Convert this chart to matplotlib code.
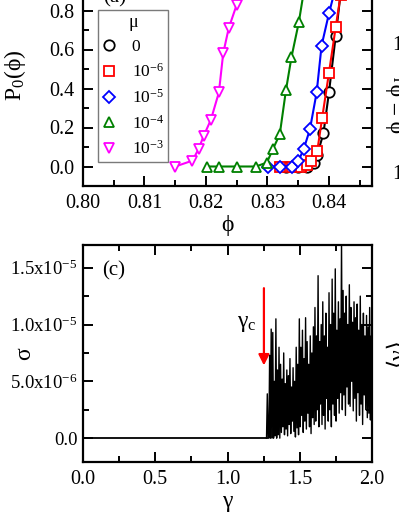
import numpy as np
import matplotlib
matplotlib.use('Agg')
import matplotlib.pyplot as plt
from matplotlib.lines import Line2D
from matplotlib.ticker import MultipleLocator

plt.rcParams['font.family'] = ['Liberation Serif', 'DejaVu Serif']
plt.rcParams['mathtext.fontset'] = 'custom'
plt.rcParams['mathtext.rm'] = 'Liberation Serif'
plt.rcParams['mathtext.it'] = 'Liberation Serif:italic'

PHI = '\u03d5'

# panel (a): P0(phi) for several mu
mu_labels = ['0', '10$^{-6}$', '10$^{-5}$', '10$^{-4}$', '10$^{-3}$']
phi_mu0 = [0.8330, 0.8350, 0.8365, 0.8375, 0.8381, 0.8391, 0.8400, 0.8411, 0.8419, 0.8428, 0.8436]
p0_mu0 = [0.0, 0.0, 0.0, 0.02, 0.06, 0.17, 0.38, 0.67, 0.89, 0.97, 1.0]
phi_mu6 = [0.8320, 0.8340, 0.8355, 0.8365, 0.8370, 0.8381, 0.8389, 0.8400, 0.8411, 0.8419, 0.8428, 0.8436]
p0_mu6 = [0.0, 0.0, 0.0, 0.01, 0.03, 0.08, 0.25, 0.48, 0.715, 0.88, 0.96, 1.0]
phi_mu5 = [0.8301, 0.8321, 0.8340, 0.8350, 0.8359, 0.8369, 0.8380, 0.8388, 0.8400, 0.8411, 0.8420, 0.8430]
p0_mu5 = [0.0, 0.0, 0.0, 0.026, 0.09, 0.19, 0.38, 0.62, 0.785, 0.92, 0.98, 1.0]
phi_mu4 = [0.8202, 0.8221, 0.8250, 0.8281, 0.8299, 0.8309, 0.8320, 0.8330, 0.8339, 0.8351, 0.8360, 0.8370, 0.8380]
p0_mu4 = [0.0, 0.0, 0.0, 0.0, 0.02, 0.09, 0.165, 0.39, 0.56, 0.74, 0.915, 0.98, 1.0]
phi_mu3 = [0.8150, 0.8178, 0.8188, 0.8196, 0.8208, 0.8221, 0.8228, 0.8237, 0.8250, 0.8259, 0.8270, 0.8280]
p0_mu3 = [0.0, 0.03, 0.09, 0.155, 0.24, 0.38, 0.58, 0.71, 0.83, 0.92, 0.98, 1.0]

# panel (c): sigma vs gamma (units of 1e-6)
gamma_quiet = [0.0, 1.27]
sigma_quiet = [0.0, 0.0]
sigma_noisy = [
    0, 3.9, 0, 0, 7.3, 0, 9.6, 0,
    9.3, 0, 5.0, 0.2, 10.5, 0, 6.0, 0.3, 8.0, 0,
    6.5, 0.5, 5.2, 1.0, 7.5, 0.3, 4.8, 0.8, 6.0, 0.2, 5.5, 1.2, 7.0, 0.4,
    4.5, 1.5, 6.2, 0.6, 5.0, 0.1, 8.0, 0.9, 6.5, 0.3,
    10.5, 1.0, 8.0, 2.0, 9.5, 0.5, 7.0, 1.5, 10.6, 0.8, 8.5, 2.2, 6.5, 1.0,
    9.0, 0.4, 7.5, 1.8, 9.8, 1.2,
    11.5, 1.5, 9.0, 2.5, 14.3, 1.0, 8.5, 3.0, 10.0, 1.2, 12.0, 2.0, 9.0, 0.8,
    11.0, 3.5, 8.0, 1.5,
    12.8, 2.5, 10.0, 1.0, 14.0, 3.0, 11.0, 2.0, 14.9, 1.5, 9.5, 3.5, 12.0, 2.2,
    10.5, 4.0,
    17.5, 2.5, 13.0, 3.8, 11.0, 2.0, 12.5, 4.5, 10.0, 3.0, 13.5, 2.8, 11.5, 5.0,
    10.2, 2.4,
    12.0, 3.5, 10.6, 1.5, 11.8, 4.0, 9.5, 2.0, 12.5, 3.0, 10.0, 1.2, 11.0, 3.8,
    9.0, 2.5, 10.8, 1.8, 9.8, 2.2, 11.5, 1.6, 9.0, 1.0,
]
gamma_noisy = np.linspace(1.27, 2.0, len(sigma_noisy))

W, H = 399, 516
fig = plt.figure(figsize=(W / 100, H / 100), dpi=100)

def px_box(x0, y0, x1, y1):
    return [x0 / W, 1 - y1 / H, (x1 - x0) / W, (y1 - y0) / H]

def style_axes(ax):
    for s in ax.spines.values():
        s.set_linewidth(1.6)
    ax.tick_params(which='both', direction='in', top=True, right=True,
                   width=1.4, labelsize=14.5, pad=6)
    ax.tick_params(which='major', length=7)
    ax.tick_params(which='minor', length=4)

# ---- (a)
ax = fig.add_axes(px_box(83, -48, 372, 186))
style_axes(ax)
series = [
    (phi_mu0, p0_mu0, 'o', 'black'),
    (phi_mu6, p0_mu6, 's', 'red'),
    (phi_mu5, p0_mu5, 'D', 'blue'),
    (phi_mu4, p0_mu4, '^', 'green'),
    (phi_mu3, p0_mu3, 'v', 'magenta'),
]
handles = []
for (xs, ys, m, c), lab in zip(series, mu_labels):
    ms = 6.5 if m == 'D' else 7.5
    ax.plot(xs, ys, '-', color=c, lw=1.5, marker=m, ms=ms, mfc='white',
            mec=c, mew=1.3)
    handles.append(Line2D([], [], ls='none', marker=m, ms=ms, mfc='white',
                          mec=c, mew=1.3, label=lab))
ax.set_xlim(0.80, 0.847)
ax.set_ylim(-0.1, 1.1)
ax.xaxis.set_minor_locator(MultipleLocator(0.005))
ax.yaxis.set_minor_locator(MultipleLocator(0.1))
ax.set_xticks([0.80, 0.81, 0.82, 0.83, 0.84], ['0.80', '0.81', '0.82', '0.83', '0.84'])
ax.set_yticks([0.0, 0.2, 0.4, 0.6, 0.8, 1.0], ['0.0', '0.2', '0.4', '0.6', '0.8', '1.0'])
ax.set_xlabel(PHI, fontsize=17, labelpad=1)
ax.set_ylabel('P$_0$(' + PHI + ')', fontsize=17)
ax.yaxis.set_label_coords(-0.19, 0.474)
ax.text(0.069, 0.761, '(a)', transform=ax.transAxes, fontsize=15, va='bottom')
leg = ax.legend(handles=handles, title='μ', loc='upper left',
                bbox_to_anchor=(98 / W, 1 - 10 / H), bbox_transform=fig.transFigure,
                fontsize=12.5, title_fontsize=13, frameon=True, fancybox=False,
                edgecolor='0.35', handlelength=0.8, handletextpad=0.9,
                labelspacing=0.45, borderpad=0.25, borderaxespad=0)
leg.get_frame().set_linewidth(1.0)

# ---- (c)
ax2 = fig.add_axes(px_box(83, 245, 372, 462))
style_axes(ax2)
ax2.plot(gamma_quiet, sigma_quiet, color='black', lw=1.3)
ax2.plot(gamma_noisy, np.array(sigma_noisy) * 1e-6, color='black', lw=1.0)
ax2.set_xlim(0, 2.0)
ax2.set_ylim(-2.1e-6, 1.7e-5)
ax2.set_xticks([0.0, 0.5, 1.0, 1.5, 2.0], ['0.0', '0.5', '1.0', '1.5', '2.0'])
ax2.xaxis.set_minor_locator(MultipleLocator(0.25))
ax2.set_yticks([0, 5e-6, 1e-5, 1.5e-5],
               ['0.0', '5.0x10$^{-6}$', '1.0x10$^{-5}$', '1.5x10$^{-5}$'])
ax2.yaxis.set_minor_locator(MultipleLocator(2.5e-6))
ax2.tick_params(axis='y', labelsize=13.5, pad=4)
ax2.set_xlabel('γ', fontsize=17, labelpad=1)
ax2.set_ylabel('σ', fontsize=17)
ax2.yaxis.set_label_coords(-0.165, 0.50)
ax2.text(0.065, 0.88, '(c)', transform=ax2.transAxes, fontsize=15, va='center')
ax2.annotate('', xy=(1.252, 6.4e-6), xytext=(1.252, 13.2e-6),
             arrowprops=dict(arrowstyle='-|>', color='red', lw=1.6,
                             mutation_scale=16, shrinkA=0, shrinkB=0))
ax2.text(1.13, 10.1e-6, 'γ$_\\mathrm{c}$', fontsize=17, ha='center', va='center')

# pieces of the neighbouring panels on the right
fig.text(392 / W, 1 - 45 / H, '10', fontsize=14.5, va='center', ha='left')
fig.text(392 / W, 1 - 175 / H, '10', fontsize=14.5, va='center', ha='left')
fig.text(385 / W, 1 - 105 / H, PHI + ' − ' + PHI + '$_\\mathrm{J}$', fontsize=17,
         rotation=90, va='center', ha='left')
fig.text(385 / W, 1 - 352 / H, '⟨γ⟩', fontsize=17,
         rotation=90, va='center', ha='left')

fig.savefig('out.png', dpi=100)
